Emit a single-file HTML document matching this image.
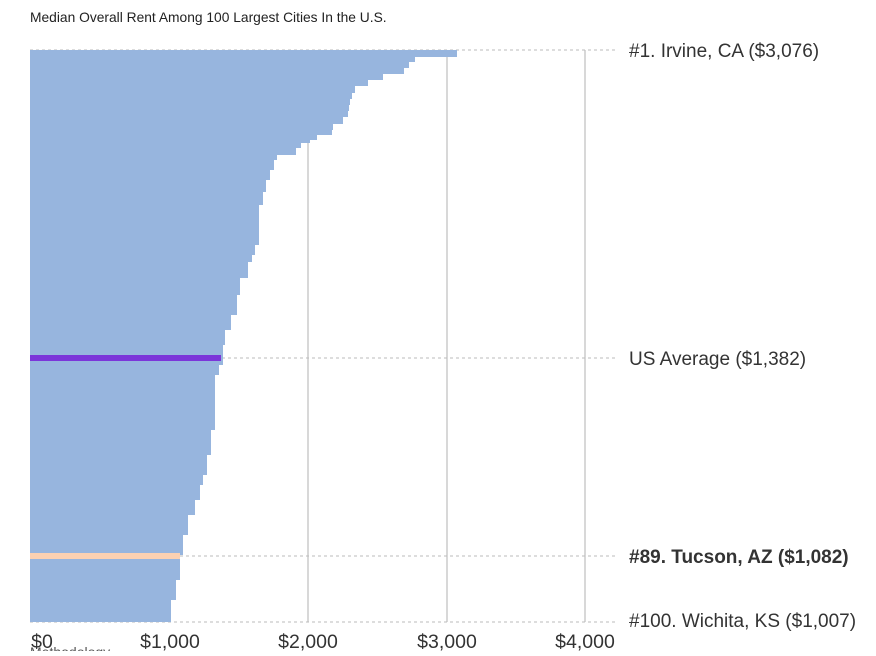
<!DOCTYPE html>
<html><head><meta charset="utf-8"><style>
body{margin:0;background:#fff;width:876px;height:651px;overflow:hidden;font-family:"Liberation Sans",sans-serif}
</style></head><body>
<svg width="876" height="651" xmlns="http://www.w3.org/2000/svg" font-family="Liberation Sans, sans-serif">
<text x="30" y="22" font-size="13.8" fill="#222">Median Overall Rent Among 100 Largest Cities In the U.S.</text>
<g stroke="#ccc" stroke-width="1.5">
<line x1="308" y1="50" x2="308" y2="622"/><line x1="447" y1="50" x2="447" y2="622"/><line x1="585" y1="50" x2="585" y2="622"/>
</g>
<g stroke="#bbb" stroke-width="1" stroke-dasharray="3,3">
<line x1="30" y1="50" x2="615" y2="50"/><line x1="30" y1="358" x2="615" y2="358"/><line x1="30" y1="556" x2="615" y2="556"/><line x1="30" y1="622" x2="615" y2="622"/>
</g>
<path fill="#97b5de" d="M30 50 H457 V57 H415 V62 H409 V68 H404 V74 H383 V80 H368 V86 H355 V93 H352 V99 H350 V105 H349 V111 H348 V117 H343 V124 H333 V130 H332 V135 H317 V140 H310 V143 H301 V148 H296 V155 H277 V160 H274 V170 H270 V180 H266 V192 H263 V205 H259 V245 H255 V255 H252 V262 H248 V278 H240 V295 H237 V315 H231 V330 H225 V345 H223 V365 H219 V375 H215 V430 H211 V455 H207 V475 H203 V485 H200 V500 H195 V515 H188 V535 H183 V555 H180 V580 H176 V600 H171 V622 H30 Z"/>
<rect x="30" y="355" width="191" height="6" fill="#7b35d9"/>
<rect x="30" y="553" width="150" height="6" fill="#fcd1b2"/>
<g font-size="19" fill="#333">
<text x="629" y="57">#1. Irvine, CA ($3,076)</text>
<text x="629" y="365">US Average ($1,382)</text>
<text x="629" y="563" font-weight="bold">#89. Tucson, AZ ($1,082)</text>
<text x="629" y="627">#100. Wichita, KS ($1,007)</text>
</g>
<text x="30" y="657" font-size="14" fill="#555">Methodology</text>
<g font-size="19.5" fill="#333" text-anchor="middle">
<text x="42" y="648">$0</text><text x="170" y="648">$1,000</text><text x="308" y="648">$2,000</text><text x="447" y="648">$3,000</text><text x="585" y="648">$4,000</text>
</g>
</svg>
</body></html>
